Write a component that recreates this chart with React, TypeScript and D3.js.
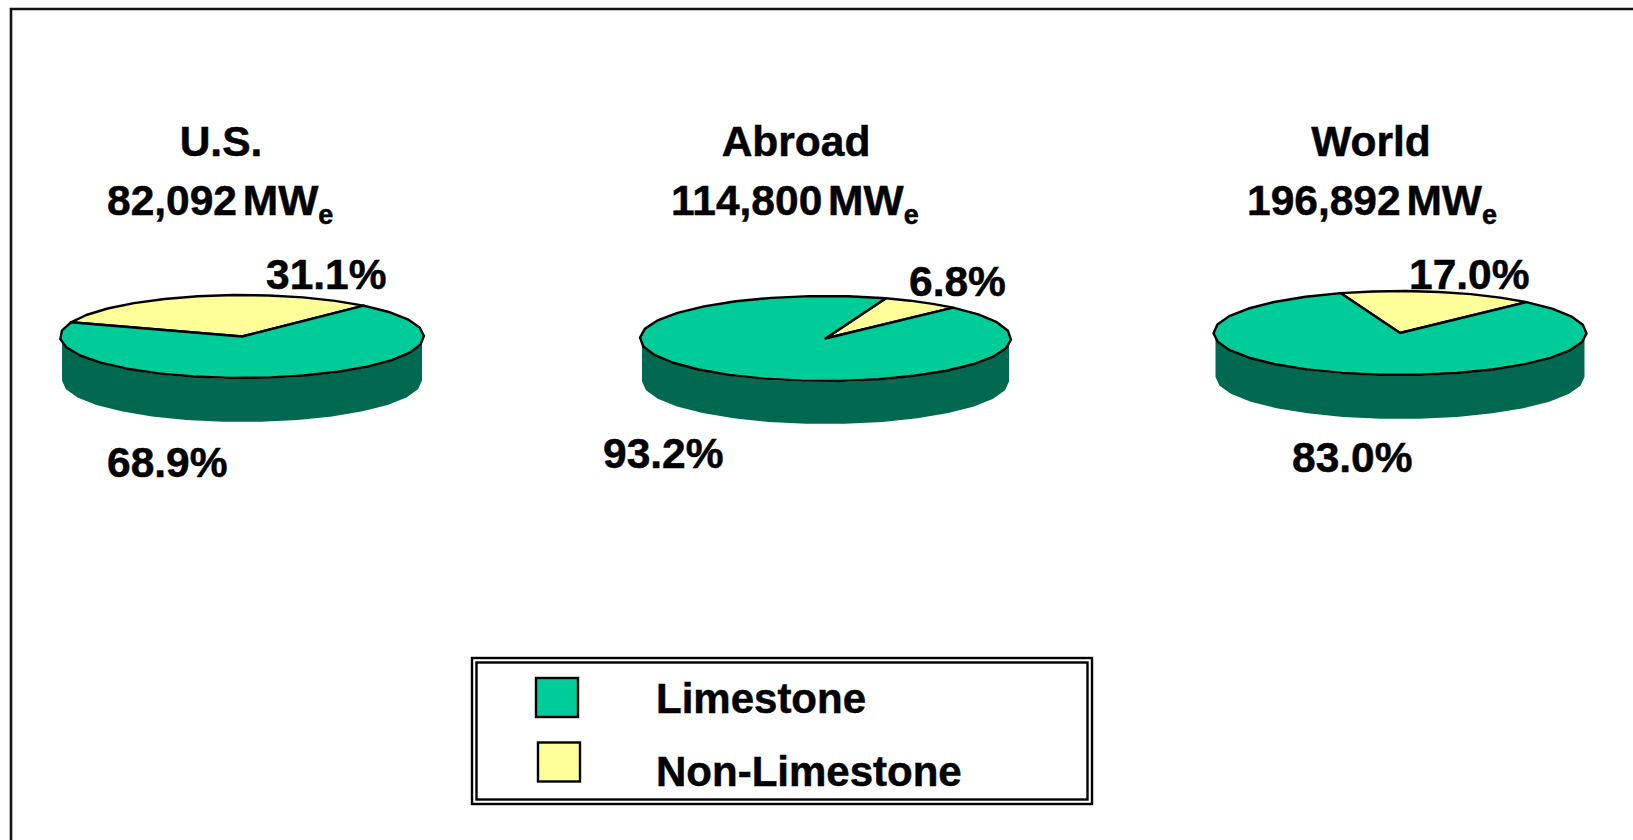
import React from "react";
import * as d3 from "d3";

const regions = ["U.S.", "Abroad", "World"];
const capacities = ["82,092", "114,800", "196,892"];
const limestoneShare = [68.9, 93.2, 83.0];
const nonLimestoneShare = [31.1, 6.8, 17.0];
const legendLabels = ["Limestone", "Non-Limestone"];

const GREEN = "#00CC99";
const YELLOW = "#FFFF99";
const DARK = "#006950";
const FONT = "'Liberation Sans', Arial, sans-serif";

// Placement of each disc: centre, radii, wall height and where the yellow slice begins.
const layout = [
  { cx: 242, cy: 336.5, rx: 182, ry: 41.5, depth: 44, start: -70, title: 221, titleY: 156, capX: 107, capY: 214.5, top: [266, 289], low: [107, 477] },
  { cx: 825.5, cy: 338.5, rx: 185.5, ry: 42.5, depth: 43, start: 19, title: 796, titleY: 156, capX: 671, capY: 214.5, top: [909, 296], low: [603, 468] },
  { cx: 1400, cy: 333, rx: 186.5, ry: 42, depth: 44, start: -18.5, title: 1371, titleY: 156, capX: 1247, capY: 214.5, top: [1409, 288.5], low: [1292, 472] },
];

const STEP = (12 * Math.PI) / 180;
const polyline = d3.line<[number, number]>();

// Samples an elliptical rim between two pie angles; the coarse step gives the faceted edge.
function rim(a0: number, a1: number, cx: number, cy: number, rx: number, ry: number): [number, number][] {
  const n = Math.max(1, Math.ceil(Math.abs(a1 - a0) / STEP));
  return d3.range(n + 1).map((i) => {
    const a = a0 + ((a1 - a0) * i) / n;
    return [cx + rx * Math.sin(a), cy - ry * Math.cos(a)] as [number, number];
  });
}

function Disc({ index }: { index: number }) {
  const g = layout[index];
  const rad = (g.start * Math.PI) / 180;
  const arcs = d3
    .pie<number>()
    .sort(null)
    .startAngle(rad)
    .endAngle(rad + 2 * Math.PI)([nonLimestoneShare[index], limestoneShare[index]]);
  const colours = [YELLOW, GREEN];
  const wallRx = g.rx - 2;
  const wall = [
    ...rim(Math.PI / 2, (3 * Math.PI) / 2, g.cx, g.cy + 1, wallRx, g.ry),
    ...rim((3 * Math.PI) / 2, Math.PI / 2, g.cx, g.cy + g.depth, wallRx, g.ry),
  ];
  return (
    <g>
      <path d={polyline(wall) + "Z"} fill={DARK} />
      {arcs.map((a, i) => (
        <path
          key={i}
          d={polyline([[g.cx, g.cy], ...rim(a.startAngle, a.endAngle, g.cx, g.cy, g.rx, g.ry)]) + "Z"}
          fill={colours[i]}
          stroke="#000"
          strokeWidth={2.4}
          strokeLinejoin="round"
        />
      ))}
    </g>
  );
}

export default function App() {
  const textProps = { fontFamily: FONT, fontWeight: 700, fontSize: 42.5, fill: "#000", stroke: "#000", strokeWidth: 0.5 };
  return (
    <svg
      width={1633}
      height={840}
      style={{ position: "fixed", left: 0, top: 0, background: "#fff" }}
    >
      <path d="M11 840V9H1633" fill="none" stroke="#111" strokeWidth={2.6} />
      {regions.map((r, i) => {
        const g = layout[i];
        return (
          <g key={r}>
            <Disc index={i} />
            <text {...textProps} x={g.title} y={g.titleY} textAnchor="middle">{r}</text>
            <text {...textProps} x={g.capX} y={g.capY} wordSpacing={-6}>
              {capacities[i]} MW<tspan fontSize={27} dy={9}>e</tspan>
            </text>
            <text {...textProps} x={g.top[0]} y={g.top[1]}>{nonLimestoneShare[i].toFixed(1)}%</text>
            <text {...textProps} x={g.low[0]} y={g.low[1]}>{limestoneShare[i].toFixed(1)}%</text>
          </g>
        );
      })}
      <rect x={472} y={658} width={620} height={146} fill="#fff" stroke="#000" strokeWidth={2.4} />
      <rect x={476.5} y={662.5} width={611} height={137} fill="none" stroke="#000" strokeWidth={2.4} />
      {legendLabels.map((l, i) => (
        <g key={l}>
          <rect
            x={i === 0 ? 536 : 538}
            y={i === 0 ? 678 : 742.5}
            width={42}
            height={39}
            fill={i === 0 ? GREEN : YELLOW}
            stroke="#000"
            strokeWidth={2.4}
          />
          <text {...textProps} fontSize={42} x={656} y={i === 0 ? 713 : 786}>{l}</text>
        </g>
      ))}
    </svg>
  );
}
